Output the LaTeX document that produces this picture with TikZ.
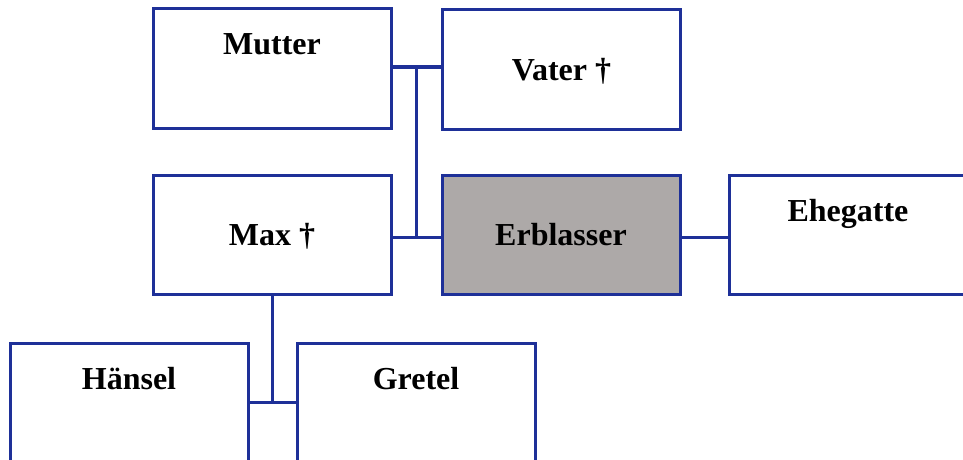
\documentclass[tikz,border=0pt]{standalone}
\usepackage{fontspec}
\setmainfont{Liberation Serif}
\usepackage{xcolor}
\usetikzlibrary{positioning}
\definecolor{boxblue}{RGB}{30,48,152}
\definecolor{erbgray}{RGB}{173,169,168}
\tikzset{
  person/.style={draw=boxblue,line width=3pt,rectangle,minimum width=238pt,minimum height=119pt,
    inner sep=0pt,outer sep=0pt,text height=22pt,text depth=0pt,font=\bfseries\fontsize{32}{38}\selectfont},
  oben/.style={text height=46pt,text depth=73pt},
  linie/.style={boxblue,line width=3pt}
}

\begin{document}
\begin{tikzpicture}[x=1pt,y=-1pt]
            \useasboundingbox (0,0) rectangle (963,460);
            % Eltern
            \node[person,oben] (mutter) at (272,68.5) {Mutter};
            \node[person] (vater) at (561.5,69.5) {Vater \textdagger};
            % Erblasser und Geschwister
            \node[person] (max) at (272,234.5) {Max \textdagger};
            \node[person,fill=erbgray] (erbl) at (561,234.5) {Erblasser};
            \node[person,oben] (ehe) at (848,234.5) {Ehegatte};
            % Kinder
            \node[person,oben] (haensel) at (129,402.5) {Hänsel};
            \node[person,oben] (gretel) at (416,402.5) {Gretel};
            % Linien
            \draw[linie] (mutter.east|-0,67) -- coordinate (eltern) (vater.west|-0,67);
            \draw[linie] (max.east|-0,237) -- coordinate (geschw) (erbl.west|-0,237);
            \draw[linie] (eltern) -- (eltern|-geschw);
            \draw[linie] (erbl.east|-0,237) -- (ehe.west|-0,237);
            \draw[linie] (haensel.east) -- coordinate (kinder) (gretel.west);
            \draw[linie] (max.south) -- (max.south|-kinder);
           \end{tikzpicture}
\end{document}
